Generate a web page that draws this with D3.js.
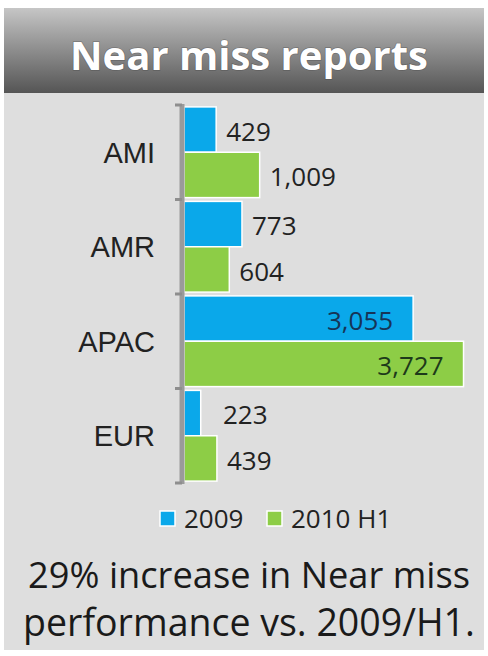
<!DOCTYPE html>
<html>
<head>
<meta charset="utf-8">
<script src="https://cdn.jsdelivr.net/npm/d3@7"></script>
<style>
  body { margin: 0; background: #fff; }
  svg text { font-family: "Open Sans", "Noto Sans", sans-serif; }
</style>
</head>
<body>
<script>
// data
var regions = ["AMI", "AMR", "APAC", "EUR"];
var seriesNames = ["2009", "2010 H1"];
var values2009 = [429, 773, 3055, 223];
var values2010 = [1009, 604, 3727, 439];
var seriesColors = ["#0aa8ea", "#8dcd46"];
var titleText = "Near miss reports";
var noteLines = ["29% increase in Near miss", "performance vs. 2009/H1."];

var width = 488, height = 656;
var panel = {x: 4, y: 8, w: 480, h: 642};

var svg = d3.select("body").append("svg")
    .attr("width", width)
    .attr("height", height);

var defs = svg.append("defs");
var grad = defs.append("linearGradient")
    .attr("id", "titleGrad")
    .attr("x1", 0).attr("y1", 0).attr("x2", 0).attr("y2", 1);
grad.append("stop").attr("offset", "0%").attr("stop-color", "#c6c6c6");
grad.append("stop").attr("offset", "30%").attr("stop-color", "#a3a3a3");
grad.append("stop").attr("offset", "100%").attr("stop-color", "#555555");

// background panel
svg.append("rect")
    .attr("x", panel.x).attr("y", panel.y)
    .attr("width", panel.w).attr("height", panel.h)
    .attr("fill", "#dedede");

svg.append("rect")
    .attr("x", panel.x).attr("y", panel.y)
    .attr("width", panel.w).attr("height", 85)
    .attr("fill", "url(#titleGrad)");

// fit a text node to a given width by scaling its font size
function fitText(sel, target) {
  var len = sel.node().getComputedTextLength();
  var fs = parseFloat(sel.attr("font-size"));
  sel.attr("font-size", fs * target / len);
}

var title = svg.append("text")
    .attr("x", 249)
    .attr("y", 70)
    .attr("text-anchor", "middle")
    .attr("font-size", 40)
    .attr("font-weight", "bold")
    .attr("fill", "#ffffff")
    .style("paint-order", "stroke")
    .attr("stroke", "rgba(60,60,60,0.35)")
    .attr("stroke-width", 1.5)
    .text(titleText);
fitText(title, 358);

// scales
var x = d3.scaleLinear()
    .domain([0, 4000])
    .range([184, 484]);

var y0 = d3.scaleBand()
    .domain(regions)
    .range([105, 483])
    .paddingInner(0.04)
    .paddingOuter(0.02);

var y1 = d3.scaleBand()
    .domain(seriesNames)
    .range([0, y0.bandwidth()]);

var rows = [];
regions.forEach(function(r, i) {
  rows.push({region: r, series: seriesNames[0], value: values2009[i], color: seriesColors[0]});
  rows.push({region: r, series: seriesNames[1], value: values2010[i], color: seriesColors[1]});
});

// bars
svg.append("g").attr("class", "bars")
  .selectAll("rect")
    .data(rows)
  .enter().append("rect")
    .attr("x", x(0))
    .attr("y", function(d) { return y0(d.region) + y1(d.series); })
    .attr("width", function(d) { return x(d.value) - x(0); })
    .attr("height", y1.bandwidth())
    .attr("fill", function(d) { return d.color; })
    .attr("stroke", "#ffffff")
    .attr("stroke-width", 1.5);

// axis line and ticks
var axisX = 182;
var tickYs = [105, 483];
regions.forEach(function(r, i) { if (i > 0) tickYs.push(y0.step() * i + 105); });

svg.append("line")
    .attr("x1", axisX).attr("x2", axisX)
    .attr("y1", 104).attr("y2", 484)
    .attr("stroke", "#9a9a9a")
    .attr("stroke-width", 5);

svg.append("g").selectAll("line")
    .data(tickYs)
  .enter().append("line")
    .attr("x1", axisX - 7).attr("x2", axisX)
    .attr("y1", function(d) { return d; })
    .attr("y2", function(d) { return d; })
    .attr("stroke", "#8e8e8e")
    .attr("stroke-width", 3);

// category labels
svg.append("g").selectAll("text")
    .data(regions)
  .enter().append("text")
    .attr("x", 155)
    .attr("y", function(d) { return y0(d) + y0.bandwidth() / 2; })
    .attr("dy", "0.36em")
    .attr("text-anchor", "end")
    .style("font-family", "'Liberation Sans', Arial, sans-serif")
    .attr("font-size", 29)
    .attr("fill", "#222")
    .text(function(d) { return d; });

// value labels
var fmt = d3.format(",");
svg.append("g").selectAll("text")
    .data(rows)
  .enter().append("text")
    .attr("x", function(d) {
      if (d.value > 2000) return x(d.value) - 20;
      return Math.max(x(d.value) + 10, 223);
    })
    .attr("y", function(d) { return y0(d.region) + y1(d.series) + y1.bandwidth() / 2 + 2; })
    .attr("dy", "0.36em")
    .attr("text-anchor", function(d) { return d.value > 2000 ? "end" : "start"; })
    .attr("font-size", 26)
    .attr("fill", function(d) {
      if (d.value > 2000) return d.series == seriesNames[0] ? "#163457" : "#1d3a1a";
      return "#222";
    })
    .text(function(d) { return fmt(d.value); });

// legend
var legend = svg.append("g").selectAll("g")
    .data(seriesNames)
  .enter().append("g")
    .attr("transform", function(d, i) { return "translate(" + [160, 267][i] + ",519)"; });

legend.append("rect")
    .attr("x", 0).attr("y", -8)
    .attr("width", 15).attr("height", 15)
    .attr("fill", function(d, i) { return seriesColors[i]; })
    .attr("stroke", "#ffffff")
    .attr("stroke-width", 1.5);

legend.append("text")
    .attr("x", 24)
    .attr("y", 0)
    .attr("dy", "0.36em")
    .attr("font-size", 26)
    .attr("fill", "#222")
    .text(function(d) { return d; });

// note below the chart
var note = svg.append("g").selectAll("text")
    .data(noteLines)
  .enter().append("text")
    .attr("x", 249)
    .attr("y", function(d, i) { return 588 + i * 48; })
    .attr("text-anchor", "middle")
    .attr("font-size", 32)
    .attr("fill", "#1a1a1a")
    .text(function(d) { return d; });
note.each(function(d, i) { fitText(d3.select(this), i == 0 ? 442 : 452); });
</script>
</body>
</html>
